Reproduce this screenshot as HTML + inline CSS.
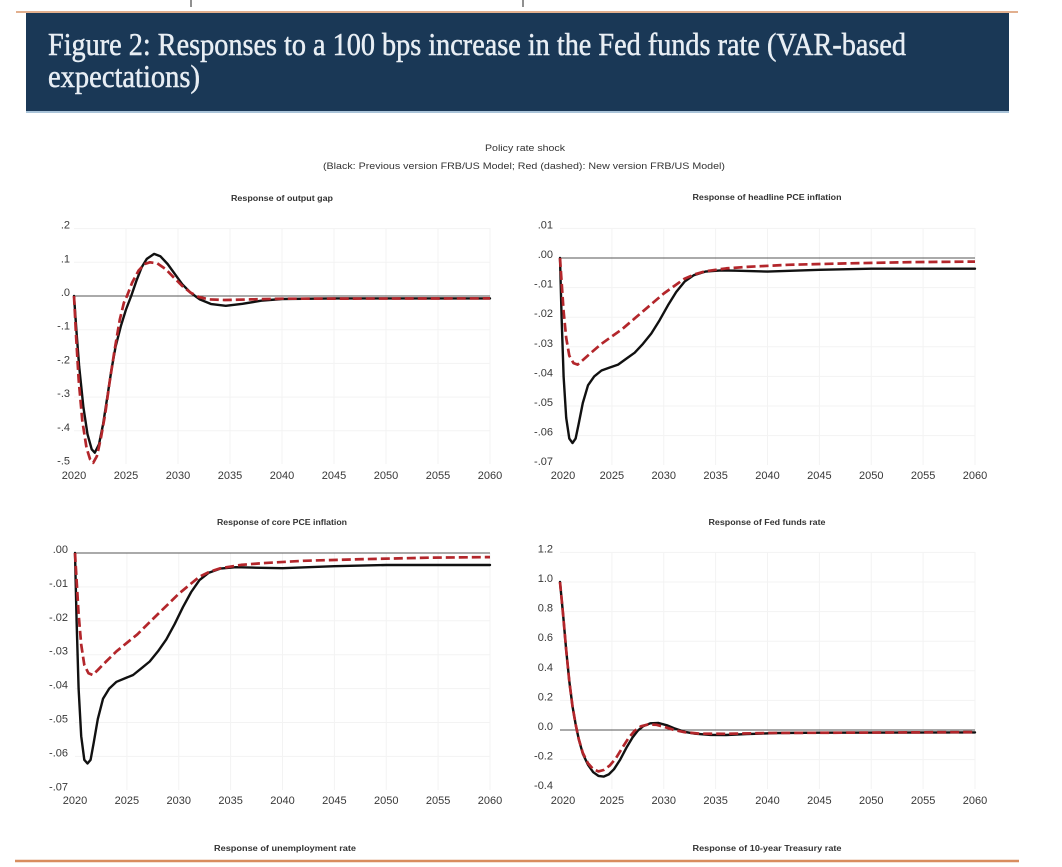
<!DOCTYPE html>
<html>
<head>
<meta charset="utf-8">
<style>
  html,body{margin:0;padding:0;background:#ffffff;}
  body{width:1062px;height:867px;overflow:hidden;}
  svg{display:block;}
  .tk{font-family:"Liberation Sans",sans-serif;font-size:11px;fill:#383838;}
  .ttl{font-family:"Liberation Sans",sans-serif;font-size:8px;font-weight:bold;fill:#333;}
  .sub{font-family:"Liberation Sans",sans-serif;font-size:9px;fill:#333;}
  .grid{stroke:#f3f3f3;stroke-width:1;fill:none;}
  .zero{stroke:#555;stroke-width:1.1;}
  .blk{fill:none;stroke:#111;stroke-width:2.4;stroke-linejoin:round;stroke-linecap:round;}
  .red{fill:none;stroke:#b3262b;stroke-width:2.7;stroke-dasharray:9 4;stroke-linejoin:round;}
</style>
</head>
<body>
<svg width="1062" height="867" viewBox="0 0 1062 867" xmlns="http://www.w3.org/2000/svg">
  <line x1="191" y1="0" x2="191" y2="7" stroke="#555" stroke-width="1.3"/>
  <line x1="523" y1="0" x2="523" y2="7" stroke="#555" stroke-width="1.3"/>
  <line x1="16" y1="12" x2="1018" y2="12" stroke="#d9956a" stroke-width="1.6"/>
  <rect x="26" y="13" width="983" height="99" fill="#1a3856"/>
  <rect x="26" y="111" width="983" height="2" fill="#a9c3d8"/>
  <text x="48" y="55" font-family="Liberation Serif, serif" font-size="32" fill="#e8eef4" stroke="#e8eef4" stroke-width="0.5" textLength="858" lengthAdjust="spacingAndGlyphs">Figure 2: Responses to a 100 bps increase in the Fed funds rate (VAR-based</text>
  <text x="48" y="87" font-family="Liberation Serif, serif" font-size="32" fill="#e8eef4" stroke="#e8eef4" stroke-width="0.5" textLength="152" lengthAdjust="spacingAndGlyphs">expectations)</text>

  <text class="sub" x="525" y="151" text-anchor="middle" textLength="80" lengthAdjust="spacingAndGlyphs">Policy rate shock</text>
  <text class="sub" x="524" y="169" text-anchor="middle" textLength="402" lengthAdjust="spacingAndGlyphs">(Black: Previous version FRB/US Model; Red (dashed): New version FRB/US Model)</text>

  <text class="ttl" x="282" y="201" text-anchor="middle" textLength="102" lengthAdjust="spacingAndGlyphs">Response of output gap</text>
  <text class="ttl" x="767" y="200" text-anchor="middle" textLength="149" lengthAdjust="spacingAndGlyphs">Response of headline PCE inflation</text>
  <text class="ttl" x="282" y="525" text-anchor="middle" textLength="130" lengthAdjust="spacingAndGlyphs">Response of core PCE inflation</text>
  <text class="ttl" x="767" y="525" text-anchor="middle" textLength="117" lengthAdjust="spacingAndGlyphs">Response of Fed funds rate</text>
  <text class="ttl" x="285" y="851" text-anchor="middle" textLength="142" lengthAdjust="spacingAndGlyphs">Response of unemployment rate</text>
  <text class="ttl" x="767" y="851" text-anchor="middle" textLength="149" lengthAdjust="spacingAndGlyphs">Response of 10-year Treasury rate</text>

  <line x1="15" y1="861" x2="1019" y2="861" stroke="#d88d5f" stroke-width="2.6"/>

  <!-- PANEL A -->
  <g>
    <g class="grid">
      <line x1="74" y1="228.6" x2="490" y2="228.6"/>
      <line x1="74" y1="262.3" x2="490" y2="262.3"/>
      <line x1="74" y1="329.7" x2="490" y2="329.7"/>
      <line x1="74" y1="363.4" x2="490" y2="363.4"/>
      <line x1="74" y1="397.1" x2="490" y2="397.1"/>
      <line x1="74" y1="430.8" x2="490" y2="430.8"/>
      <line x1="126" y1="228" x2="126" y2="464"/>
      <line x1="178" y1="228" x2="178" y2="464"/>
      <line x1="230" y1="228" x2="230" y2="464"/>
      <line x1="282" y1="228" x2="282" y2="464"/>
      <line x1="334" y1="228" x2="334" y2="464"/>
      <line x1="386" y1="228" x2="386" y2="464"/>
      <line x1="438" y1="228" x2="438" y2="464"/>
      <line x1="490" y1="228" x2="490" y2="464"/>
    </g>
    <line class="zero" x1="74" y1="296" x2="490" y2="296"/>
    <g class="tk" text-anchor="end">
      <text x="70" y="228.6">.2</text>
      <text x="70" y="262.3">.1</text>
      <text x="70" y="296">.0</text>
      <text x="70" y="329.7">-.1</text>
      <text x="70" y="363.4">-.2</text>
      <text x="70" y="397.1">-.3</text>
      <text x="70" y="430.8">-.4</text>
      <text x="70" y="464.5">-.5</text>
    </g>
    <g class="tk" text-anchor="middle">
      <text x="74" y="479">2020</text>
      <text x="126" y="479">2025</text>
      <text x="178" y="479">2030</text>
      <text x="230" y="479">2035</text>
      <text x="282" y="479">2040</text>
      <text x="334" y="479">2045</text>
      <text x="386" y="479">2050</text>
      <text x="438" y="479">2055</text>
      <text x="490" y="479">2060</text>
    </g>
    <polyline class="blk" points="74,296 76.6,333.1 79.2,366.8 83.4,407.2 87.5,434.2 91.7,449.3 94.8,452.7 99,444.3 103.1,424.1 107.3,397.1 111.4,370.1 115.6,346.6 120.8,326.3 126,309.5 131.2,296 136.4,280.8 141.6,267.4 146.8,258.9 154.1,253.9 160.3,256.2 167.6,264 174.9,274.1 182.2,284.2 190.5,292.6 199.8,299.4 211.3,304.1 225.8,305.8 242.5,303.8 261.2,300.7 282,299 334,298.4 490,298.4"/>
    <polyline class="red" points="74,296 76.1,336.4 78.7,380.3 82.3,420.7 86.5,447.7 90.1,459.4 93.2,462.8 96.9,456.1 101,437.5 105.2,414 109.4,383.6 114.6,349.9 119.8,319.6 123.9,302.7 127,296 132.2,282.5 138.5,270.7 144.7,264 149.9,262.3 157.2,263.3 165.5,269 173.8,277.5 182.2,285.9 190.5,292.6 198.8,297 209.2,299.4 224.8,300 250.8,299.4 282,298.7 490,298.4"/>
  </g>

  <!-- PANEL B -->
  <g>
    <g class="grid">
      <line x1="560" y1="228.4" x2="975" y2="228.4"/>
      <line x1="560" y1="287.6" x2="975" y2="287.6"/>
      <line x1="560" y1="317.2" x2="975" y2="317.2"/>
      <line x1="560" y1="346.8" x2="975" y2="346.8"/>
      <line x1="560" y1="376.4" x2="975" y2="376.4"/>
      <line x1="560" y1="406" x2="975" y2="406"/>
      <line x1="560" y1="435.6" x2="975" y2="435.6"/>
      <line x1="611.9" y1="228" x2="611.9" y2="465"/>
      <line x1="663.75" y1="228" x2="663.75" y2="465"/>
      <line x1="715.6" y1="228" x2="715.6" y2="465"/>
      <line x1="767.5" y1="228" x2="767.5" y2="465"/>
      <line x1="819.4" y1="228" x2="819.4" y2="465"/>
      <line x1="871.25" y1="228" x2="871.25" y2="465"/>
      <line x1="923.1" y1="228" x2="923.1" y2="465"/>
      <line x1="975" y1="228" x2="975" y2="465"/>
    </g>
    <line class="zero" x1="560" y1="258" x2="975" y2="258"/>
    <g class="tk" text-anchor="end">
      <text x="553" y="228.4">.01</text>
      <text x="553" y="258">.00</text>
      <text x="553" y="287.6">-.01</text>
      <text x="553" y="317.2">-.02</text>
      <text x="553" y="346.8">-.03</text>
      <text x="553" y="376.4">-.04</text>
      <text x="553" y="406">-.05</text>
      <text x="553" y="435.6">-.06</text>
      <text x="553" y="465.2">-.07</text>
    </g>
    <g class="tk" text-anchor="middle">
      <text x="563" y="479">2020</text>
      <text x="611.9" y="479">2025</text>
      <text x="663.75" y="479">2030</text>
      <text x="715.6" y="479">2035</text>
      <text x="767.5" y="479">2040</text>
      <text x="819.4" y="479">2045</text>
      <text x="871.25" y="479">2050</text>
      <text x="923.1" y="479">2055</text>
      <text x="975" y="479">2060</text>
    </g>
    <polyline class="blk" points="560,258 561.6,317.2 563.6,376.4 566.2,417.8 569.3,438.6 572.5,443 575.6,438.6 578.7,423.8 582.8,403 588,385.3 594.2,376.4 601.5,370.5 609.8,367.5 618.1,364.6 626.4,358.6 634.7,352.7 643,343.8 651.3,333.5 659.6,320.2 667.9,305.4 676.2,292 684.5,281.7 693.8,275.2 705.3,271.6 720.8,270.4 736.4,270.7 767.5,271.6 819.4,269.8 871.3,268.7 975,268.7"/>
    <polyline class="red" points="560,258 561.6,281.7 563.6,311.3 566.2,337.9 569.3,355.7 573.5,363.1 577.6,364.6 582.8,360.1 591.1,352.7 601.5,343.8 611.9,336.4 622.3,329 632.6,320.2 643,311.3 653.4,302.4 663.8,293.5 674.1,286.1 684.5,278.7 694.9,274.3 705.3,271.3 726,268.4 746.8,266.9 788.3,264.8 850.5,263.3 912.8,262.1 975,261.6"/>
  </g>

  <!-- PANEL C -->
  <g>
    <g class="grid">
      <line x1="75" y1="586.9" x2="490" y2="586.9"/>
      <line x1="75" y1="620.8" x2="490" y2="620.8"/>
      <line x1="75" y1="654.7" x2="490" y2="654.7"/>
      <line x1="75" y1="688.6" x2="490" y2="688.6"/>
      <line x1="75" y1="722.5" x2="490" y2="722.5"/>
      <line x1="75" y1="756.4" x2="490" y2="756.4"/>
      <line x1="126.9" y1="553" x2="126.9" y2="790"/>
      <line x1="178.75" y1="553" x2="178.75" y2="790"/>
      <line x1="230.6" y1="553" x2="230.6" y2="790"/>
      <line x1="282.5" y1="553" x2="282.5" y2="790"/>
      <line x1="334.4" y1="553" x2="334.4" y2="790"/>
      <line x1="386.25" y1="553" x2="386.25" y2="790"/>
      <line x1="438.1" y1="553" x2="438.1" y2="790"/>
      <line x1="490" y1="553" x2="490" y2="790"/>
    </g>
    <line class="zero" x1="75" y1="553" x2="490" y2="553"/>
    <g class="tk" text-anchor="end">
      <text x="68" y="553">.00</text>
      <text x="68" y="586.9">-.01</text>
      <text x="68" y="620.8">-.02</text>
      <text x="68" y="654.7">-.03</text>
      <text x="68" y="688.6">-.04</text>
      <text x="68" y="722.5">-.05</text>
      <text x="68" y="756.4">-.06</text>
      <text x="68" y="790.3">-.07</text>
    </g>
    <g class="tk" text-anchor="middle">
      <text x="75" y="804">2020</text>
      <text x="126.9" y="804">2025</text>
      <text x="178.75" y="804">2030</text>
      <text x="230.6" y="804">2035</text>
      <text x="282.5" y="804">2040</text>
      <text x="334.4" y="804">2045</text>
      <text x="386.25" y="804">2050</text>
      <text x="438.1" y="804">2055</text>
      <text x="490" y="804">2060</text>
    </g>
    <polyline class="blk" points="75,553 76.6,620.8 78.6,688.6 81.2,736.1 84.3,759.8 87.5,763.5 90.6,759.8 93.7,742.8 97.8,719.1 103,698.8 109.2,688.6 116.5,681.8 124.8,678.4 133.1,675 141.4,668.3 149.7,661.5 158,651.3 166.3,639.4 174.6,624.2 182.9,607.2 191.2,592 199.5,580.1 208.8,572.7 220.3,568.6 235.8,567.2 251.4,567.6 282.5,568.2 334.4,566.2 386.3,565 490,565"/>
    <polyline class="red" points="75,553 76.6,580.1 78.6,614 81.2,644.5 84.3,664.9 88.5,673.3 92.6,675 97.8,670 106.1,661.5 116.5,651.3 126.9,642.8 137.3,634.4 147.6,624.2 158,614 168.4,603.9 178.8,593.7 189.1,585.2 199.5,576.7 209.9,571.6 220.3,568.3 241,564.9 261.8,563.2 303.3,560.8 365.5,559.1 427.8,557.7 490,557.1"/>
  </g>

  <!-- PANEL D -->
  <g>
    <g class="grid">
      <line x1="560" y1="552.4" x2="975" y2="552.4"/>
      <line x1="560" y1="582" x2="975" y2="582"/>
      <line x1="560" y1="611.6" x2="975" y2="611.6"/>
      <line x1="560" y1="641.2" x2="975" y2="641.2"/>
      <line x1="560" y1="670.8" x2="975" y2="670.8"/>
      <line x1="560" y1="700.4" x2="975" y2="700.4"/>
      <line x1="560" y1="759.6" x2="975" y2="759.6"/>
      <line x1="611.9" y1="552" x2="611.9" y2="789"/>
      <line x1="663.75" y1="552" x2="663.75" y2="789"/>
      <line x1="715.6" y1="552" x2="715.6" y2="789"/>
      <line x1="767.5" y1="552" x2="767.5" y2="789"/>
      <line x1="819.4" y1="552" x2="819.4" y2="789"/>
      <line x1="871.25" y1="552" x2="871.25" y2="789"/>
      <line x1="923.1" y1="552" x2="923.1" y2="789"/>
      <line x1="975" y1="552" x2="975" y2="789"/>
    </g>
    <line class="zero" x1="560" y1="730" x2="975" y2="730"/>
    <g class="tk" text-anchor="end">
      <text x="553" y="552.4">1.2</text>
      <text x="553" y="582">1.0</text>
      <text x="553" y="611.6">0.8</text>
      <text x="553" y="641.2">0.6</text>
      <text x="553" y="670.8">0.4</text>
      <text x="553" y="700.4">0.2</text>
      <text x="553" y="730">0.0</text>
      <text x="553" y="759.6">-0.2</text>
      <text x="553" y="789.2">-0.4</text>
    </g>
    <g class="tk" text-anchor="middle">
      <text x="563" y="804">2020</text>
      <text x="611.9" y="804">2025</text>
      <text x="663.75" y="804">2030</text>
      <text x="715.6" y="804">2035</text>
      <text x="767.5" y="804">2040</text>
      <text x="819.4" y="804">2045</text>
      <text x="871.25" y="804">2050</text>
      <text x="923.1" y="804">2055</text>
      <text x="975" y="804">2060</text>
    </g>
    <polyline class="blk" points="560,582 563.1,614.6 566.2,650.1 569.3,681.2 572.5,706.3 575.6,724.1 578.7,738.9 582.8,753.7 588,764.8 593.2,772.2 598.4,775.9 603.6,776.6 608.8,774.4 614,769.2 620.2,759.6 626.4,747.8 632.6,737.4 637.8,730.7 643,726.3 650.3,723.3 658.6,723 666.9,725.3 674.1,728.2 684.5,731.8 694.9,733.7 710.4,734.9 726,735 746.8,734.1 777.9,733 819.4,732.7 975,732.4"/>
    <polyline class="red" points="560,582 563.1,614.6 566.2,650.1 569.3,681.2 572.5,706.3 575.6,724.1 578.7,738.9 582.8,752.9 588,763.3 593.2,769.2 598.4,771.4 603.6,770 609.8,765.5 616,758.1 622.3,747.8 628.5,738.1 634.7,730.7 640.9,726.3 648.2,724.4 656.5,724.8 664.8,727 674.1,730 684.5,732.2 700.1,733.7 726,733.8 767.5,733 975,732.1"/>
  </g>
</svg>
</body>
</html>
